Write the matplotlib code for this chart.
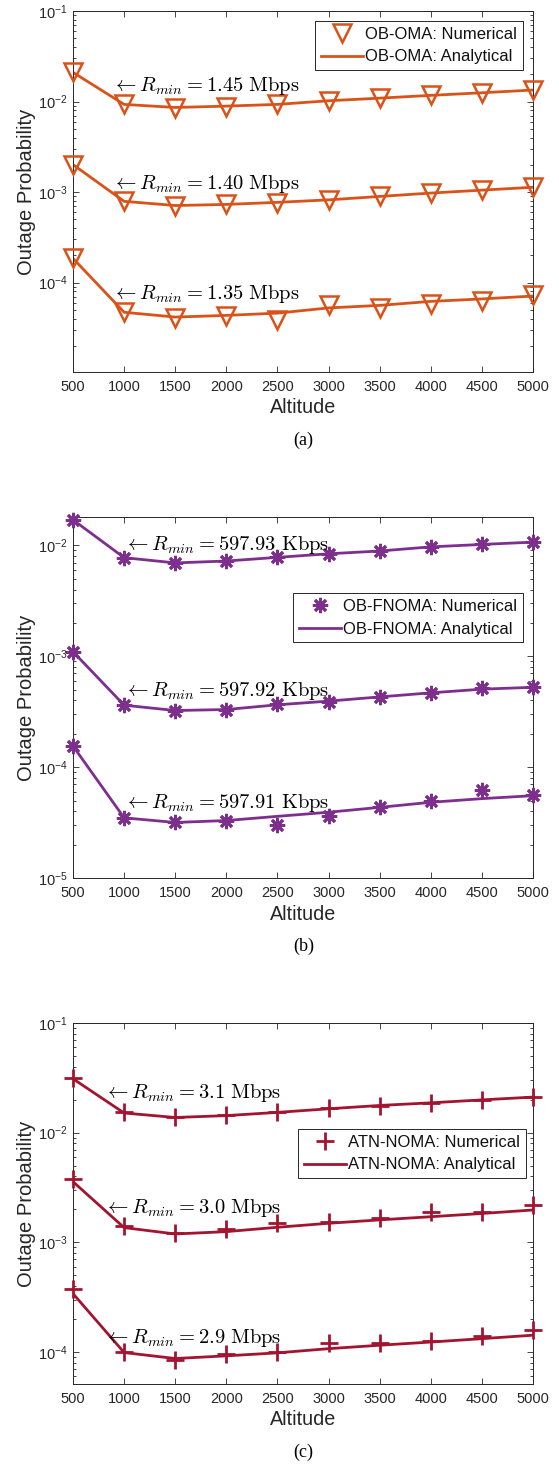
import numpy as np
import matplotlib
matplotlib.use("Agg")
import matplotlib.pyplot as plt
from matplotlib.ticker import LogLocator, NullFormatter

plt.rcParams["font.family"] = ["Liberation Sans", "DejaVu Sans"]
plt.rcParams["mathtext.fontset"] = "cm"

altitude = [500, 1000, 1500, 2000, 2500, 3000, 3500, 4000, 4500, 5000]

# (a) OB-OMA
oma_rates = ["1.45", "1.40", "1.35"]
oma_num = [
    [0.021, 0.0093, 0.0085, 0.0088, 0.0093, 0.0102, 0.0109, 0.0117, 0.0125, 0.0134],
    [0.00201, 0.00079, 0.00070, 0.00074, 0.00076, 0.00082, 0.000895, 0.000975, 0.00105, 0.00113],
    [0.000185, 4.7e-5, 4.1e-5, 4.3e-5, 3.9e-5, 5.6e-5, 5.2e-5, 5.8e-5, 6.3e-5, 7.3e-5],
]
oma_ana = [
    [0.021, 0.0093, 0.0086, 0.0089, 0.0093, 0.0102, 0.0109, 0.0117, 0.0125, 0.0134],
    [0.00201, 0.00079, 0.00071, 0.00073, 0.00077, 0.00082, 0.000895, 0.000975, 0.00105, 0.00113],
    [0.000185, 4.7e-5, 4.16e-5, 4.34e-5, 4.6e-5, 5.25e-5, 5.6e-5, 6.2e-5, 6.6e-5, 7.1e-5],
]

# (b) OB-FNOMA
fnoma_rates = ["597.93", "597.92", "597.91"]
fnoma_num = [
    [0.0170, 0.00775, 0.00695, 0.00723, 0.0078, 0.0084, 0.0089, 0.0097, 0.0102, 0.0107],
    [0.0011, 0.000362, 0.000324, 0.000331, 0.000372, 0.000390, 0.00043, 0.000468, 0.000515, 0.000525],
    [0.000155, 3.49e-5, 3.17e-5, 3.3e-5, 2.98e-5, 3.6e-5, 4.34e-5, 5.0e-5, 6.27e-5, 5.6e-5],
]
fnoma_ana = [
    [0.0170, 0.00775, 0.00695, 0.00723, 0.0078, 0.0084, 0.0089, 0.0097, 0.0102, 0.0107],
    [0.0011, 0.000362, 0.000324, 0.000331, 0.000365, 0.000394, 0.00043, 0.000468, 0.000505, 0.000525],
    [0.000155, 3.49e-5, 3.17e-5, 3.3e-5, 3.6e-5, 3.92e-5, 4.34e-5, 4.82e-5, 5.2e-5, 5.53e-5],
]

# (c) ATN-NOMA
atn_rates = ["3.1", "3.0", "2.9"]
atn_num = [
    [0.0318, 0.0153, 0.0138, 0.0145, 0.0155, 0.0167, 0.0176, 0.0188, 0.0200, 0.0213],
    [0.0038, 0.00142, 0.00121, 0.00131, 0.00150, 0.00152, 0.00168, 0.0019, 0.0019, 0.00219],
    [0.000373, 1.0e-4, 8.4e-5, 9.5e-5, 1.0e-4, 1.21e-4, 1.21e-4, 1.25e-4, 1.41e-4, 1.6e-4],
]
atn_ana = [
    [0.0310, 0.0151, 0.01375, 0.0143, 0.0153, 0.0165, 0.0177, 0.0187, 0.0199, 0.0211],
    [0.00357, 0.00136, 0.00119, 0.00125, 0.00137, 0.00149, 0.0016, 0.00171, 0.00183, 0.00197],
    [0.00034, 9.86e-5, 8.7e-5, 9.2e-5, 9.8e-5, 1.07e-4, 1.15e-4, 1.23e-4, 1.32e-4, 1.42e-4],
]

panels = [
    dict(name="OB-OMA", rates=oma_rates, unit="Mbps", num=oma_num, ana=oma_ana,
         color="#D95319", marker="v", ms=13, mew=1.8, fill="none",
         ylim=(1.03e-5, 0.1), yticks=[1e-4, 1e-3, 1e-2, 1e-1],
         text_x=880, text_y=[0.0147, 0.00123, 7.4e-5],
         legend_anchor=(0.978, 0.972), caption="(a)"),
    dict(name="OB-FNOMA", rates=fnoma_rates, unit="Kbps", num=fnoma_num, ana=fnoma_ana,
         color="#7E2F8E", marker=(8, 2, 0), ms=11, mew=2.0, fill="full",
         ylim=(1e-5, 0.018), yticks=[1e-5, 1e-4, 1e-3, 1e-2],
         text_x=1000, text_y=[0.0100, 0.000484, 4.75e-5],
         legend_anchor=(0.978, 0.789), caption="(b)"),
    dict(name="ATN-NOMA", rates=atn_rates, unit="Mbps", num=atn_num, ana=atn_ana,
         color="#A2142F", marker="+", ms=13, mew=2.0, fill="full",
         ylim=(5.1e-5, 0.1), yticks=[1e-4, 1e-3, 1e-2, 1e-1],
         text_x=800, text_y=[0.023, 0.00204, 1.35e-4],
         legend_anchor=(0.985, 0.706), caption="(c)"),
]

fig = plt.figure(figsize=(5.59, 14.69), dpi=100)
bottoms = [0.7468, 0.4023, 0.0579]

for p, b in zip(panels, bottoms):
    ax = fig.add_axes([0.1306, b, 0.823, 0.2457])
    for i in range(3):
        ax.plot(altitude, p["num"][i], linestyle="none", marker=p["marker"],
                ms=p["ms"], mew=p["mew"], mfc="none" if p["fill"] == "none" else p["color"],
                mec=p["color"], color=p["color"], clip_on=False,
                label=f"{p['name']}: Numerical" if i == 0 else None, zorder=3)
        ax.plot(altitude, p["ana"][i], color=p["color"], lw=2.0,
                label=f"{p['name']}: Analytical" if i == 0 else None, zorder=2)
        ax.text(p["text_x"], p["text_y"][i],
                r"$\leftarrow R_{min} = " + p["rates"][i] + r"\ \mathrm{" + p["unit"] + "}$",
                fontsize=14.8, va="center", ha="left", color="black")

    ax.set_yscale("log")
    ax.set_xlim(500, 5000)
    ax.set_ylim(*p["ylim"])
    ax.set_xticks(altitude)
    ax.set_yticks(p["yticks"])
    ax.yaxis.set_minor_locator(LogLocator(base=10, subs=np.arange(2, 10)))
    ax.yaxis.set_minor_formatter(NullFormatter())
    ax.tick_params(which="both", direction="in", top=True, right=True,
                   labelsize=10.5, colors="#262626", width=0.6)
    ax.tick_params(axis="x", pad=6)
    ax.tick_params(axis="y", pad=4)
    ax.tick_params(which="major", length=4)
    ax.tick_params(which="minor", length=2)
    for s in ax.spines.values():
        s.set_color("#262626")
        s.set_linewidth(0.7)
    ax.set_xlabel("Altitude", fontsize=14.2, color="#262626", labelpad=3)
    ax.set_ylabel("Outage Probability", fontsize=14.5, color="#262626", labelpad=1)

    leg = ax.legend(loc="upper right", bbox_to_anchor=p["legend_anchor"], fontsize=12,
                    fancybox=False, framealpha=1, edgecolor="#262626",
                    handlelength=2.5, handletextpad=0.15, borderpad=0.35,
                    labelspacing=0.45, borderaxespad=0)
    leg.get_frame().set_linewidth(0.7)
    for t in leg.get_texts():
        t.set_color("#111111")

    fig.text(0.5425, b - 0.0465, p["caption"], ha="center", va="center",
             fontsize=13, family="Liberation Serif")

fig.savefig("out.png", dpi=100)
